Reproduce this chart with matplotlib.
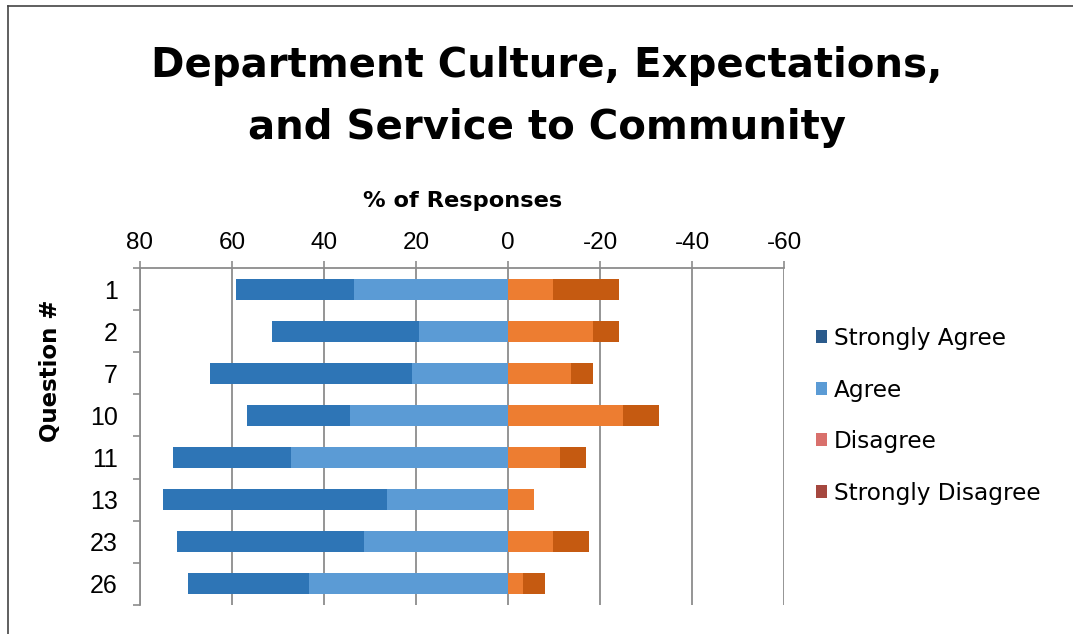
import matplotlib
matplotlib.use("Agg")
import matplotlib.pyplot as plt
from matplotlib.lines import Line2D
from matplotlib.patches import Patch

plt.rcParams['font.family'] = ['Liberation Sans', 'DejaVu Sans']

questions = ['1', '2', '7', '10', '11', '13', '23', '26']
agree = [33.5, 19.3, 20.8, 34.4, 47.2, 26.3, 31.2, 43.3]
strongly_agree = [25.7, 31.9, 43.9, 22.4, 25.6, 48.8, 40.8, 26.3]
disagree = [-9.7, -18.4, -13.6, -24.9, -11.4, -5.6, -9.7, -3.3]
strongly_disagree = [-14.4, -5.7, -4.8, -8.0, -5.5, 0.0, -8.0, -4.8]
series_names = ['Strongly Agree', 'Agree', 'Disagree', 'Strongly Disagree']

bar_colors = ['#2e75b6', '#5b9bd5', '#ed7d31', '#c55a11']
legend_colors = ['#2b5b8c', '#5b9bd5', '#d9706c', '#a5473f']
grid_color = '#8c8c8c'
wide = 'DejaVu Sans'

W, H = 1073, 634
fig = plt.figure(figsize=(W / 100, H / 100), dpi=100)
ax = fig.add_axes([140 / W, 1 - 605 / H, 644 / W, 337 / H])

y = list(range(len(questions)))
h = 0.5
ax.barh(y, agree, height=h, color=bar_colors[1], zorder=3)
ax.barh(y, strongly_agree, left=agree, height=h, color=bar_colors[0], zorder=3)
ax.barh(y, disagree, height=h, color=bar_colors[2], zorder=3)
ax.barh(y, strongly_disagree, left=disagree, height=h, color=bar_colors[3], zorder=3)

ax.set_xlim(80, -60)
ax.set_ylim(len(questions) - 0.5, -0.5)
ax.set_xticks([80, 60, 40, 20, 0, -20, -40, -60])
ax.set_xticklabels(['80', '60', '40', '20', '0', '-20', '-40', '-60'])
ax.xaxis.tick_top()
ax.tick_params(axis='x', which='major', length=5, width=1.2, color=grid_color,
               labelsize=17.5, pad=5)
ax.grid(axis='x', color=grid_color, linewidth=1.3, zorder=0)

# category separators as major ticks, labels on minor ticks
ax.set_yticks([i - 0.5 for i in range(len(questions) + 1)])
ax.set_yticklabels([])
ax.set_yticks(y, minor=True)
ax.set_yticklabels(questions, minor=True)
ax.tick_params(axis='y', which='major', length=5, width=1.2, color=grid_color)
ax.tick_params(axis='y', which='minor', length=0, labelsize=18, pad=16)

for side in ['bottom', 'right']:
    ax.spines[side].set_visible(False)
for side in ['top', 'left']:
    ax.spines[side].set_color(grid_color)
    ax.spines[side].set_linewidth(1.3)

fig.text(463 / W, 1 - 201 / H, '% of Responses', ha='center', va='center',
         family=wide, fontsize=16.2, fontweight='bold')
fig.text(50 / W, 1 - 371 / H, 'Question #', rotation=90,
         ha='center', va='center', family=wide, fontsize=16.5,
         fontweight='bold')

fig.text(547 / W, 1 - 77 / H, 'Department Culture, Expectations,',
         ha='center', va='baseline', family=wide, fontsize=29,
         fontweight='bold')
fig.text(547 / W, 1 - 139 / H, 'and Service to Community',
         ha='center', va='baseline', family=wide, fontsize=29,
         fontweight='bold')

handles = [Patch(facecolor=c, edgecolor='none') for c in legend_colors]
fig.legend(handles, series_names, loc='upper left',
           bbox_to_anchor=(816 / W, 1 - 327 / H), frameon=False,
           prop={'family': wide, 'size': 16.7},
           handlelength=0.47, handleheight=0.47,
           handletextpad=0.3, labelspacing=1.23, borderaxespad=0,
           borderpad=0)

# outer frame
fig.add_artist(Line2D([8 / W, 1.0], [1 - 6 / H, 1 - 6 / H],
                      transform=fig.transFigure, color='#444444', lw=1.2))
fig.add_artist(Line2D([8 / W, 8 / W], [0.0, 1 - 6 / H],
                      transform=fig.transFigure, color='#444444', lw=1.2))

fig.savefig('out.png', dpi=100)
